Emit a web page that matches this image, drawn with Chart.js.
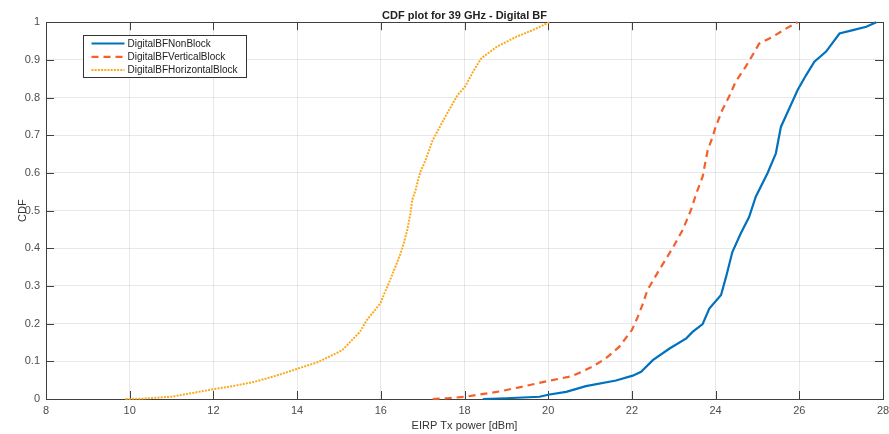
<!DOCTYPE html>
<html>
<head>
<meta charset="utf-8">
<script src="https://cdn.jsdelivr.net/npm/chart.js@4.4.0/dist/chart.umd.min.js"></script>
<style>
  body { margin: 0; background: #fff; }
  #wrap { width: 889px; height: 434px; }
</style>
</head>
<body>
<div id="wrap"><canvas id="cdf" width="889" height="434"></canvas></div>
<script>
// values
const seriesNames = ['DigitalBFNonBlock', 'DigitalBFVerticalBlock', 'DigitalBFHorizontalBlock'];

const nonBlockX = [18.44, 19.0, 19.79, 20.03, 20.43, 20.9, 21.62, 22.02, 22.22, 22.5, 22.9, 23.3, 23.45, 23.69, 23.85, 24.13, 24.25, 24.4, 24.6, 24.8, 24.96, 25.24, 25.44, 25.56, 25.76, 25.96, 26.16, 26.36, 26.64, 26.96, 27.28, 27.6, 27.84];
const nonBlockY = [0, 0.002, 0.006, 0.012, 0.019, 0.034, 0.049, 0.062, 0.072, 0.103, 0.134, 0.161, 0.178, 0.199, 0.24, 0.276, 0.324, 0.39, 0.439, 0.483, 0.537, 0.599, 0.652, 0.722, 0.771, 0.82, 0.859, 0.895, 0.922, 0.97, 0.979, 0.988, 1.0];

const verticalX = [17.24, 17.6, 18.02, 18.83, 19.31, 20.0, 20.58, 21.06, 21.38, 21.7, 22.0, 22.14, 22.27, 22.37, 22.65, 22.97, 23.21, 23.41, 23.54, 23.69, 23.81, 23.93, 24.0, 24.16, 24.32, 24.48, 24.72, 24.88, 25.04, 25.36, 25.68, 25.96];
const verticalY = [0, 0.002, 0.006, 0.02, 0.031, 0.048, 0.061, 0.086, 0.108, 0.139, 0.183, 0.218, 0.255, 0.289, 0.342, 0.40, 0.448, 0.501, 0.546, 0.59, 0.66, 0.696, 0.722, 0.767, 0.802, 0.842, 0.882, 0.912, 0.943, 0.961, 0.983, 1.0];

const horizontalX = [9.9, 10.3, 11.0, 11.5, 12.0, 12.5, 13.0, 13.5, 14.0, 14.5, 15.0, 15.1, 15.3, 15.5, 15.67, 15.83, 15.99, 16.07, 16.19, 16.35, 16.47, 16.55, 16.63, 16.71, 16.75, 16.83, 16.89, 16.96, 17.05, 17.24, 17.56, 17.83, 18.02, 18.2, 18.4, 18.76, 19.23, 19.63, 20.03];
const horizontalY = [0, 0.001, 0.006, 0.016, 0.026, 0.035, 0.046, 0.062, 0.08, 0.098, 0.125, 0.132, 0.155, 0.178, 0.21, 0.232, 0.254, 0.276, 0.307, 0.351, 0.386, 0.413, 0.448, 0.493, 0.528, 0.554, 0.581, 0.607, 0.628, 0.687, 0.753, 0.806, 0.83, 0.868, 0.904, 0.934, 0.961, 0.979, 1.0];

const xTicks = [8, 10, 12, 14, 16, 18, 20, 22, 24, 26, 28];
const yTicks = [0, 0.1, 0.2, 0.3, 0.4, 0.5, 0.6, 0.7, 0.8, 0.9, 1];

const FONT = '"Liberation Sans", Arial, Helvetica, sans-serif';

function pts(xs, ys) {
    return xs.map((x, i) => ({x: x, y: ys[i]}));
}

// matlab style box with inward ticks
const boxPlugin = {
    id: 'box',
    beforeDatasetsDraw(chart) {
        const {ctx, chartArea: a, scales} = chart;
        const len = 8;
        ctx.save();
        ctx.strokeStyle = '#404040';
        ctx.lineWidth = 1;
        ctx.beginPath();
        xTicks.forEach(v => {
            const px = Math.round(scales.x.getPixelForValue(v)) + 0.5;
            ctx.moveTo(px, a.bottom); ctx.lineTo(px, a.bottom - len);
            ctx.moveTo(px, a.top); ctx.lineTo(px, a.top + len);
        });
        yTicks.forEach(v => {
            const py = Math.round(scales.y.getPixelForValue(v)) + 0.5;
            ctx.moveTo(a.left, py); ctx.lineTo(a.left + len, py);
            ctx.moveTo(a.right, py); ctx.lineTo(a.right - len, py);
        });
        ctx.stroke();
        ctx.strokeRect(Math.round(a.left) + 0.5, Math.round(a.top) + 0.5,
            Math.round(a.right - a.left), Math.round(a.bottom - a.top));
        ctx.restore();
    }
};

// legend box inside the axes, top-left
const legendPlugin = {
    id: 'insideLegend',
    afterDraw(chart) {
        const {ctx, chartArea: a} = chart;
        const x0 = Math.round(a.left) + 37.5, y0 = Math.round(a.top) + 13.5;
        const w = 163, h = 42;
        ctx.save();
        ctx.fillStyle = '#fff';
        ctx.fillRect(x0, y0, w, h);
        ctx.strokeStyle = '#333';
        ctx.lineWidth = 1;
        ctx.strokeRect(x0, y0, w, h);
        ctx.font = '10px ' + FONT;
        ctx.textBaseline = 'middle';
        chart.data.datasets.forEach((ds, i) => {
            const y = y0 + 8 + i * 13.3;
            ctx.strokeStyle = ds.borderColor;
            ctx.lineWidth = ds.borderWidth;
            ctx.setLineDash(ds.borderDash || []);
            ctx.beginPath();
            ctx.moveTo(x0 + 8, y);
            ctx.lineTo(x0 + 41, y);
            ctx.stroke();
            ctx.setLineDash([]);
            ctx.fillStyle = '#222';
            ctx.fillText(ds.label, x0 + 44, y + 0.5);
        });
        ctx.restore();
    }
};

const ctx = document.getElementById('cdf').getContext('2d');
new Chart(ctx, {
    type: 'line',
    data: {
        datasets: [
            {
                label: seriesNames[0],
                data: pts(nonBlockX, nonBlockY),
                borderColor: '#0072BD',
                borderWidth: 2.2,
            },
            {
                label: seriesNames[1],
                data: pts(verticalX, verticalY),
                borderColor: '#F45F2A',
                borderWidth: 2.2,
                borderDash: [7, 5],
            },
            {
                label: seriesNames[2],
                data: pts(horizontalX, horizontalY),
                borderColor: '#FBAA1E',
                borderWidth: 2,
                borderDash: [2, 1.2],
            },
        ],
    },
    options: {
        responsive: false,
        animation: false,
        parsing: false,
        layout: { padding: { left: 0, right: 0, top: 0, bottom: 0 } },
        elements: {
            point: { radius: 0 },
            line: { tension: 0, fill: false },
        },
        datasets: { line: { clip: 4 } },
        plugins: {
            legend: { display: false },
            tooltip: { enabled: false },
            title: {
                display: true,
                text: 'CDF plot for 39 GHz - Digital BF',
                fullSize: false,
                color: '#222',
                font: { family: FONT, size: 11, weight: 'bold' },
                padding: { top: 9, bottom: 0 },
            },
        },
        scales: {
            x: {
                type: 'linear',
                min: 8,
                max: 28,
                afterBuildTicks: s => { s.ticks = xTicks.map(v => ({value: v})); },
                afterFit: s => { s.height = 35; s.paddingRight = 6; s.paddingLeft = 0; },
                grid: { color: 'rgba(0,0,0,0.09)', drawTicks: false },
                border: { display: false },
                ticks: { color: '#4d4d4d', padding: 5, maxRotation: 0, font: { family: FONT, size: 11 },
                    callback: v => String(Number(v.toFixed(2))) },
                title: {
                    display: true,
                    text: 'EIRP Tx power [dBm]',
                    color: '#333',
                    font: { family: FONT, size: 11 },
                    padding: { top: 0, bottom: 1.5 },
                },
            },
            y: {
                type: 'linear',
                min: 0,
                max: 1,
                afterBuildTicks: s => { s.ticks = yTicks.map(v => ({value: v})); },
                afterFit: s => { s.width = 46; },
                grid: { color: 'rgba(0,0,0,0.09)', drawTicks: false },
                border: { display: false },
                ticks: { color: '#4d4d4d', padding: 6, font: { family: FONT, size: 11 },
                    callback: v => String(Number(v.toFixed(2))) },
                title: {
                    display: true,
                    text: 'CDF',
                    color: '#333',
                    font: { family: FONT, size: 11 },
                    padding: { top: 16, bottom: 0 },
                },
            },
        },
    },
    plugins: [boxPlugin, legendPlugin],
});
</script>
</body>
</html>
